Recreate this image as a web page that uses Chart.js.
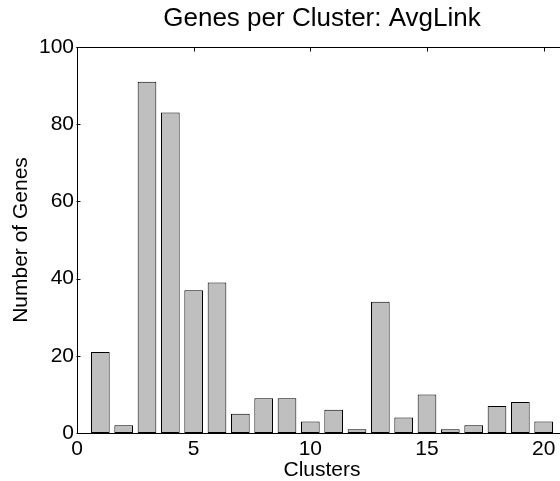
<!DOCTYPE html>
<html>
<head>
<meta charset="utf-8">
<script src="https://cdn.jsdelivr.net/npm/chart.js@4"></script>
<style>
  body { margin: 0; background: #fff; }
  #wrap { width: 560px; height: 481px; overflow: hidden; position: relative; }
  canvas { display: block; }
</style>
</head>
<body>
<div id="wrap">
  <canvas id="genesChart" width="600" height="500"></canvas>
</div>
<script>
// cluster numbers and gene counts
const clusters = [1, 2, 3, 4, 5, 6, 7, 8, 9, 10, 11, 12, 13, 14, 15, 16, 17, 18, 19, 20];
const genes = [21, 2, 91, 83, 37, 39, 5, 9, 9, 3, 6, 1, 34, 4, 10, 1, 2, 7, 8, 3];
const xTicks = [0, 5, 10, 15, 20];
const yTicks = [0, 20, 40, 60, 80, 100];

const fontFamily = '"Liberation Sans", Arial, Helvetica, sans-serif';

// matlab style frame: top line and inward tick marks
const framePlugin = {
    id: 'frame',
    beforeDatasetsDraw(chart) {
        const ctx = chart.ctx;
        const area = chart.chartArea;
        const xs = chart.scales.x;
        const ys = chart.scales.y;
        const len = 4;
        const top = Math.round(area.top) + 0.5;
        const bottom = Math.round(area.bottom) - 0.5;
        const left = Math.round(area.left) - 0.5;
        const right = Math.round(area.right) - 0.5;
        ctx.save();
        ctx.strokeStyle = '#000';
        ctx.lineWidth = 1;
        ctx.beginPath();
        ctx.moveTo(left, top);
        ctx.lineTo(right, top);
        ctx.lineTo(right, bottom);
        xTicks.forEach(v => {
            const px = Math.round(xs.getPixelForValue(v)) + 0.5;
            ctx.moveTo(px, top);
            ctx.lineTo(px, top + len);
            ctx.moveTo(px, bottom);
            ctx.lineTo(px, bottom - len);
        });
        yTicks.forEach(v => {
            const py = Math.round(ys.getPixelForValue(v)) + 0.5;
            ctx.moveTo(left, py);
            ctx.lineTo(left + len, py);
            ctx.moveTo(right, py);
            ctx.lineTo(right - len, py);
        });
        ctx.stroke();
        ctx.restore();
    }
};

new Chart(document.getElementById('genesChart'), {
    type: 'bar',
    data: {
        datasets: [{
            data: clusters.map((c, i) => ({ x: c, y: genes[i] })),
            backgroundColor: '#bfbfbf',
            borderColor: '#000',
            borderWidth: 1,
            borderSkipped: false,
            barPercentage: 0.8,
            categoryPercentage: 1
        }]
    },
    options: {
        responsive: false,
        animation: false,
        layout: { padding: { left: 0, right: 33, top: 0, bottom: 0 } },
        plugins: {
            legend: { display: false },
            tooltip: { enabled: false },
            title: {
                display: true,
                text: 'Genes per Cluster: AvgLink',
                color: '#000',
                fullSize: false,
                font: { family: fontFamily, size: 26, weight: 'normal' },
                padding: { top: 3, bottom: 12.8 }
            }
        },
        scales: {
            x: {
                type: 'linear',
                min: 0,
                max: 21,
                offset: false,
                afterFit: s => { s.height = 67; },
                afterBuildTicks: s => { s.ticks = xTicks.map(v => ({ value: v })); },
                grid: { display: false, drawTicks: false },
                border: { display: true, color: '#000', width: 1 },
                ticks: {
                    color: '#000',
                    padding: 4,
                    autoSkip: false,
                    maxRotation: 0,
                    font: { family: fontFamily, size: 21 }
                },
                title: {
                    display: true,
                    text: 'Clusters',
                    color: '#000',
                    font: { family: fontFamily, size: 21 },
                    padding: { top: 0, bottom: 17 }
                }
            },
            y: {
                min: 0,
                max: 100,
                afterFit: s => { s.width = 77; },
                afterBuildTicks: s => { s.ticks = yTicks.map(v => ({ value: v })); },
                grid: { display: false, drawTicks: false },
                border: { display: true, color: '#000', width: 1 },
                ticks: {
                    color: '#000',
                    padding: 3,
                    font: { family: fontFamily, size: 21 }
                },
                title: {
                    display: true,
                    text: 'Number of Genes',
                    color: '#000',
                    font: { family: fontFamily, size: 21 },
                    padding: { top: 9, bottom: 0 }
                }
            }
        }
    },
    plugins: [framePlugin]
});
</script>
</body>
</html>
